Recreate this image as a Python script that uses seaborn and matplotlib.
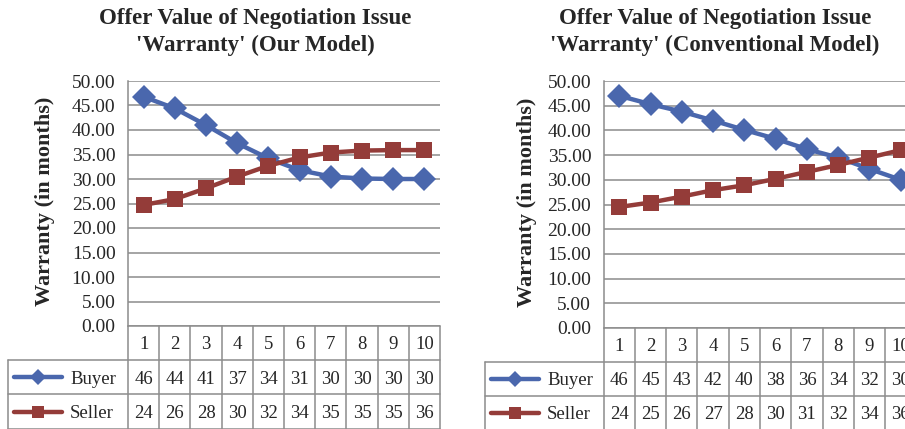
"""
Offer value of the negotiation issue 'Warranty' for buyer and seller,
our model vs. the conventional model, drawn as Excel-style line charts
with a data table under each one.
"""

import pandas as pd
import seaborn as sns
from matplotlib import pyplot as plt

# data
rounds = list(range(1, 11))

our_buyer = [46.8, 44.4, 41.0, 37.3, 34.2, 31.8, 30.5, 30.1, 30.0, 30.0]
our_seller = [24.7, 25.9, 28.1, 30.5, 32.7, 34.4, 35.4, 35.8, 35.9, 35.9]
our_buyer_table = [46, 44, 41, 37, 34, 31, 30, 30, 30, 30]
our_seller_table = [24, 26, 28, 30, 32, 34, 35, 35, 35, 36]

conv_buyer = [47.0, 45.3, 43.8, 42.0, 40.1, 38.3, 36.2, 34.5, 32.2, 30.0]
conv_seller = [24.5, 25.4, 26.6, 27.9, 28.9, 30.2, 31.6, 33.0, 34.5, 36.0]
conv_buyer_table = [46, 45, 43, 42, 40, 38, 36, 34, 32, 30]
conv_seller_table = [24, 25, 26, 27, 28, 30, 31, 32, 34, 36]

y_ticks = [0, 5, 10, 15, 20, 25, 30, 35, 40, 45, 50]

BLUE = "#4A67AD"
RED = "#943C39"
GRID = "#8C8C8C"

sns.set_style("white")
plt.rcParams["font.family"] = ["Liberation Serif", "DejaVu Serif"]

W, H = 905, 429
fig = plt.figure(figsize=(W / 100, H / 100), dpi=100)


def px_axes(x0, y0, x1, y1):
    """add axes from pixel box (top-left origin)"""
    return fig.add_axes([x0 / W, (H - y1) / H, (x1 - x0) / W, (y1 - y0) / H])


def draw_panel(left, plot_left, col_w, top, bottom, row_h, title, title_x,
               ylab_x, buyer, seller, buyer_tab, seller_tab):
    plot_right = plot_left + col_w * len(rounds)

    # line chart
    ax = px_axes(plot_left, top, plot_right, bottom)
    df = pd.DataFrame({
        "round": rounds * 2,
        "value": buyer + seller,
        "series": ["Buyer"] * len(rounds) + ["Seller"] * len(rounds),
    })
    sns.lineplot(
        data=df, x="round", y="value", hue="series", style="series",
        palette={"Buyer": BLUE, "Seller": RED},
        markers={"Buyer": "D", "Seller": "s"}, dashes=False,
        markersize=12, linewidth=3.2, markeredgewidth=0, legend=False,
        ax=ax, clip_on=False,
    )
    ax.set_xlim(0.5, len(rounds) + 0.5)
    ax.set_ylim(0, 50)
    ax.set_yticks(y_ticks)
    ax.set_yticklabels([f"{v:.2f}" for v in y_ticks], fontsize=14)
    ax.set_xticks([])
    ax.tick_params(axis="y", length=0, pad=9)
    for v in y_ticks:
        ax.axhline(v, color=GRID, lw=1.1, zorder=0)
    for side in ["top", "right", "bottom"]:
        ax.spines[side].set_visible(False)
    ax.spines["left"].set_color(GRID)
    ax.spines["left"].set_linewidth(1.1)
    ax.set_xlabel("")
    ax.set_ylabel("")

    # data table under the chart
    tb = px_axes(left, bottom, plot_right, bottom + 3 * row_h)
    x_left = 0.5 - (plot_left - left) / col_w
    tb.set_xlim(x_left, len(rounds) + 0.5)
    tb.set_ylim(0, 3)
    tb.axis("off")
    kw = dict(color=GRID, lw=1.1, clip_on=False)
    tb.plot([0.5, len(rounds) + 0.5], [3, 3], **kw)
    for yy in [0, 1, 2]:
        tb.plot([x_left, len(rounds) + 0.5], [yy, yy], **kw)
    tb.plot([x_left, x_left], [0, 2], **kw)
    for i in range(len(rounds) + 1):
        tb.plot([0.5 + i, 0.5 + i], [0, 3], **kw)
    for i, r in enumerate(rounds):
        tb.text(r, 2.45, str(r), ha="center", va="center", fontsize=13.5)
        tb.text(r, 1.45, str(buyer_tab[i]), ha="center", va="center", fontsize=13.5)
        tb.text(r, 0.45, str(seller_tab[i]), ha="center", va="center", fontsize=13.5)
    # legend keys inside the table
    kx0 = x_left + 6 / col_w
    kx1 = x_left + 54 / col_w
    km = (kx0 + kx1) / 2
    tb.plot([kx0, kx1], [1.5, 1.5], color=BLUE, lw=3.2, solid_capstyle="round")
    tb.plot([km], [1.5], marker="D", ms=8, color=BLUE, mew=0)
    tb.plot([kx0, kx1], [0.5, 0.5], color=RED, lw=3.2, solid_capstyle="round")
    tb.plot([km], [0.5], marker="s", ms=9, color=RED, mew=0)
    tb.text(kx1 + 8 / col_w, 1.45, "Buyer", ha="left", va="center", fontsize=13.5)
    tb.text(kx1 + 8 / col_w, 0.45, "Seller", ha="left", va="center", fontsize=13.5)

    fig.text(title_x / W, 1 - 32 / H, title, ha="center", va="center",
             fontsize=16.5, fontweight="bold", linespacing=1.3)
    fig.text(ylab_x / W, 1 - ((top + bottom) / 2 - 2) / H, "Warranty (in months)",
             rotation=90, ha="center", va="center", fontsize=16,
             fontweight="bold")


draw_panel(8, 128, 31.2, 81, 326, 34.2,
           "Offer Value of Negotiation Issue\n'Warranty' (Our Model)", 255, 45,
           our_buyer, our_seller, our_buyer_table, our_seller_table)
draw_panel(485, 603.7, 31.26, 81, 328, 34.0,
           "Offer Value of Negotiation Issue\n'Warranty' (Conventional Model)",
           715, 527, conv_buyer, conv_seller, conv_buyer_table, conv_seller_table)

fig.savefig("out.png", dpi=100)
